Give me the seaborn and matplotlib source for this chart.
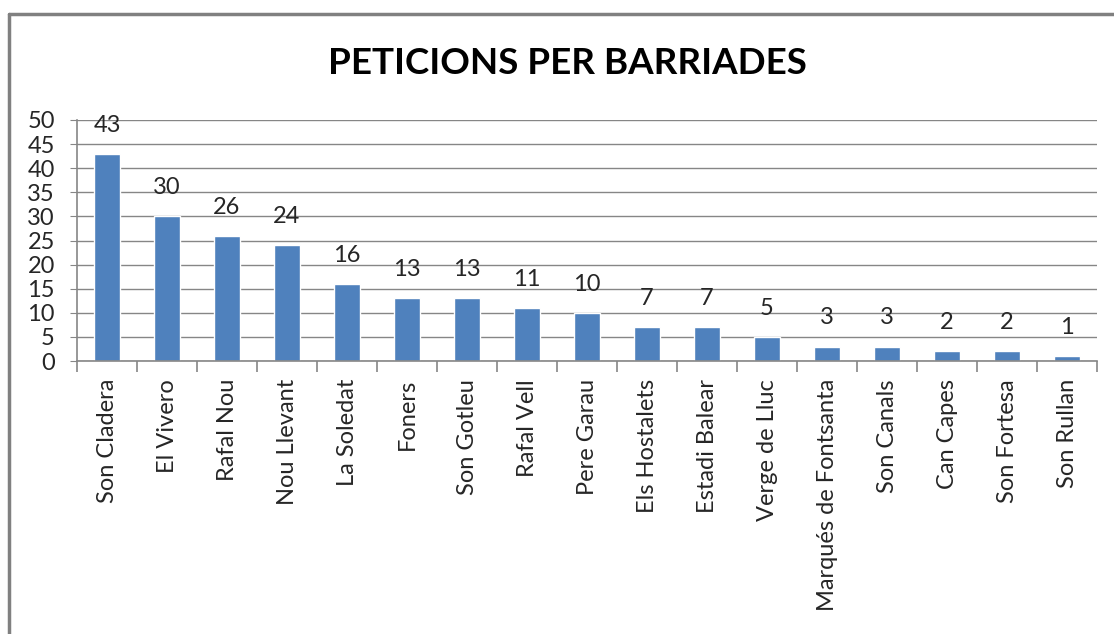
import numpy as np
import pandas as pd
import seaborn as sns
import matplotlib.pyplot as plt
from matplotlib.lines import Line2D

# data
barris = ["Son Cladera", "El Vivero", "Rafal Nou", "Nou Llevant", "La Soledat",
          "Foners", "Son Gotleu", "Rafal Vell", "Pere Garau", "Els Hostalets",
          "Estadi Balear", "Verge de Lluc", "Marqués de Fontsanta", "Son Canals",
          "Can Capes", "Son Fortesa", "Son Rullan"]
peticions = [43, 30, 26, 24, 16, 13, 13, 11, 10, 7, 7, 5, 3, 3, 2, 2, 1]
yticks = list(range(0, 55, 5))

df = pd.DataFrame({"Barri": barris, "Peticions": peticions})

sns.set_style("white")
plt.rcParams['font.family'] = ['Lato', 'DejaVu Sans']

fig = plt.figure(figsize=(11.14, 6.34), dpi=100)
ax = fig.add_axes([77 / 1114, 1 - 361 / 634, (1097 - 77) / 1114, (361 - 120) / 634])

sns.barplot(data=df, x="Barri", y="Peticions", color="#4F81BD", saturation=1,
            width=0.42, ax=ax)

ax.bar_label(ax.containers[0], fmt="%d", padding=13, fontsize=17)

grid_col = "#868686"
ax.set_ylim(0, 50)
ax.set_xlim(-0.5, len(barris) - 0.5)
ax.set_yticks(yticks)
ax.yaxis.grid(True, color=grid_col, linewidth=1)
ax.set_axisbelow(True)
for s in ["top", "right"]:
    ax.spines[s].set_visible(False)
for s in ["left", "bottom"]:
    ax.spines[s].set_color(grid_col)
    ax.spines[s].set_linewidth(1.2)

ax.set_xlabel("")
ax.set_ylabel("")
ax.tick_params(axis="y", length=5, color=grid_col, labelsize=17, pad=11, left=True)
ax.tick_params(axis="x", which="major", length=0, labelsize=17, pad=13, rotation=90)
ax.set_xticks(np.arange(-0.5, len(barris), 1), minor=True)
ax.tick_params(axis="x", which="minor", length=8, color=grid_col, width=1.2, bottom=True)
for lbl in ax.get_xticklabels():
    lbl.set_va("top")

fig.text(567 / 1114, 1 - 63 / 634, "PETICIONS PER BARRIADES", ha="center", va="center",
         fontsize=26.5, fontweight="bold", color="black")

# chart frame (left and top edges visible in the crop)
fig.add_artist(Line2D([9 / 1114, 9 / 1114], [0, 1 - 14 / 634], color="#808080", linewidth=2.5))
fig.add_artist(Line2D([9 / 1114, 1], [1 - 14 / 634, 1 - 14 / 634], color="#808080", linewidth=2.5))

fig.savefig("out.png", dpi=100)
